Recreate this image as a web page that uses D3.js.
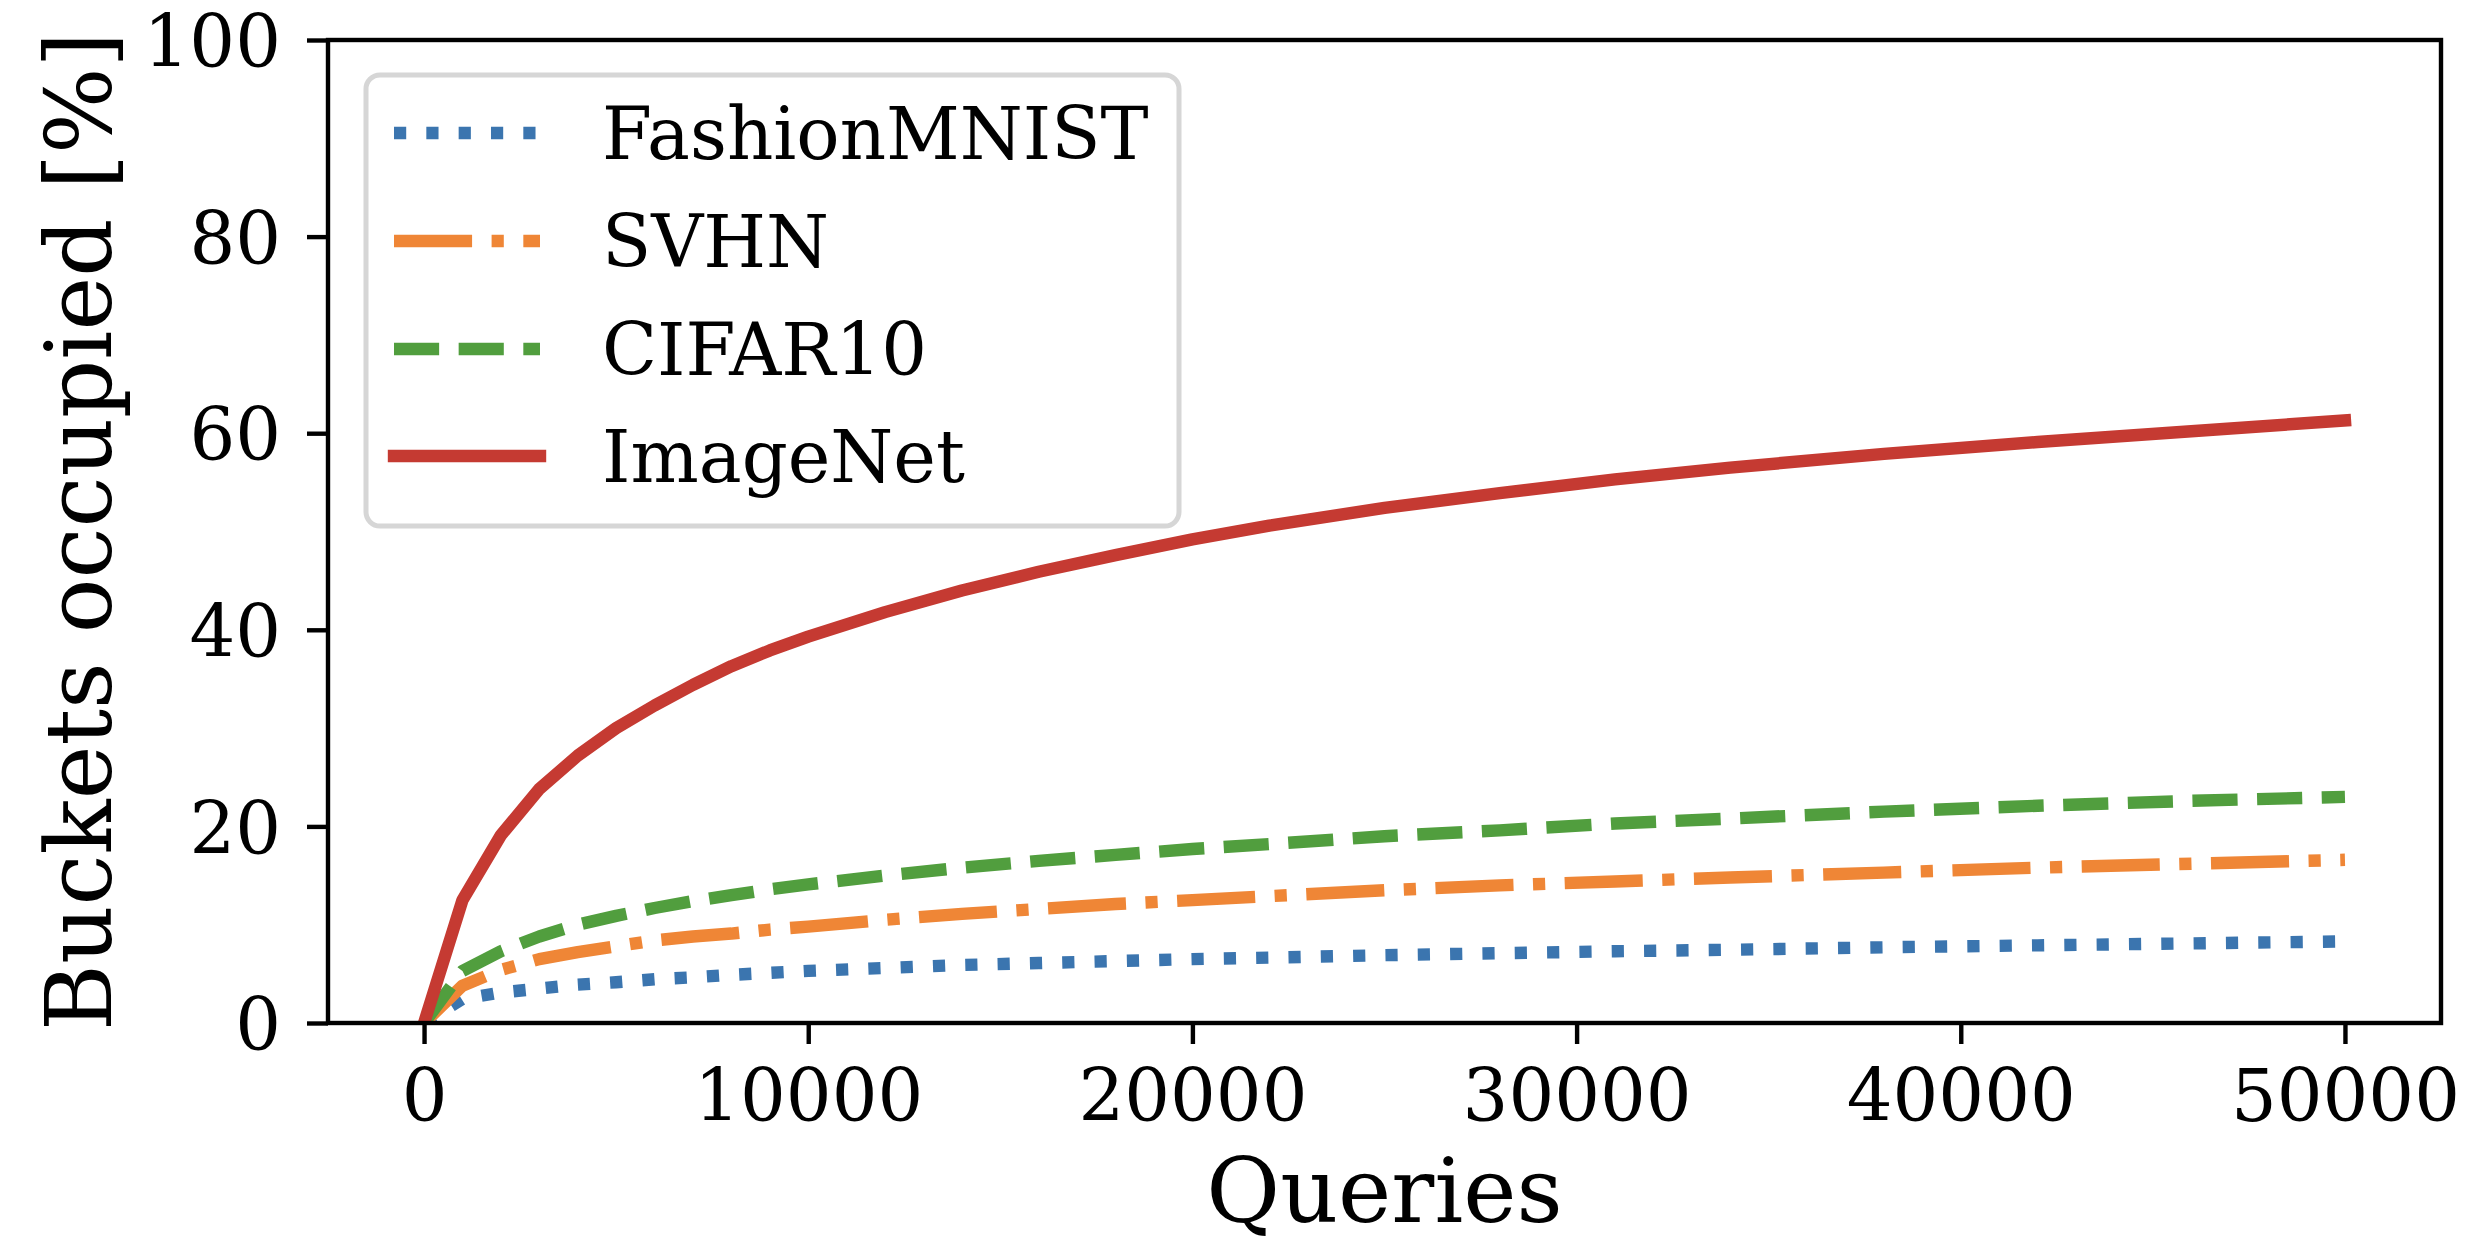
<!DOCTYPE html>
<html>
<head>
<meta charset="utf-8">
<script src="https://cdn.jsdelivr.net/npm/d3@7"></script>
<style>
  html, body { margin: 0; padding: 0; background: #ffffff; }
  svg { display: block; }
  text { font-family: "DejaVu Serif", serif; fill: #000; }
</style>
</head>
<body>
<svg id="chart" width="2488" height="1245"></svg>
<script>
// ---- data ----
const queries = [0, 1000, 2000, 3000, 4000, 5000, 6000, 7000, 8000, 9000, 10000, 12000, 14000, 16000, 18000, 20000, 22000, 25000, 28000, 31000, 34000, 38000, 42000, 46000, 50000];
const fashionMNIST = [0, 2.45, 3.1, 3.5, 3.9, 4.15, 4.45, 4.65, 4.9, 5.1, 5.3, 5.6, 5.9, 6.1, 6.3, 6.5, 6.65, 6.9, 7.1, 7.3, 7.45, 7.7, 7.9, 8.1, 8.3];
const svhn = [0, 3.8, 5.4, 6.5, 7.2, 7.8, 8.4, 8.8, 9.1, 9.5, 9.8, 10.5, 11.1, 11.6, 12.1, 12.5, 12.9, 13.5, 14.0, 14.4, 14.8, 15.3, 15.8, 16.2, 16.6];
const cifar10 = [0, 5.3, 7.3, 8.8, 10.0, 10.9, 11.7, 12.4, 13.0, 13.6, 14.1, 15.0, 15.8, 16.5, 17.1, 17.7, 18.2, 19.0, 19.6, 20.3, 20.8, 21.5, 22.1, 22.6, 23.0];
const imageNet = [0, 12.5, 19.1, 23.8, 27.2, 30.0, 32.3, 34.4, 36.3, 37.9, 39.3, 41.8, 44.0, 45.9, 47.6, 49.2, 50.6, 52.4, 53.9, 55.3, 56.5, 57.9, 59.1, 60.2, 61.3];

const seriesNames = ["FashionMNIST", "SVHN", "CIFAR10", "ImageNet"];
const seriesValues = [fashionMNIST, svhn, cifar10, imageNet];
const xTicks = [0, 10000, 20000, 30000, 40000, 50000];
const yTicks = [0, 20, 40, 60, 80, 100];
const xLabel = "Queries";
const yLabel = "Buckets occupied [%]";

// ---- styles ----
const colors = ["#3b75af", "#ef8636", "#519e3e", "#c53a32"];
const lw = 12.4;
const p = 12.2;
const dashes = [
  [1 * p, 1.65 * p].join(","),
  [6.4 * p, 1.6 * p, 1 * p, 1.6 * p].join(","),
  [3.7 * p, 1.6 * p].join(","),
  null
];

const L = 328, R = 2441, T = 40, B = 1023;
const svg = d3.select("#chart");
svg.append("rect").attr("width", 2488).attr("height", 1245).attr("fill", "#fff");

const x = d3.scaleLinear().domain([-2500, 52500]).range([L, R]);
const y = d3.scaleLinear().domain([0, 100]).range([B, T]);

svg.append("clipPath").attr("id", "clip")
  .append("rect").attr("x", L).attr("y", T).attr("width", R - L).attr("height", B - T);

const line = d3.line().x(d => x(d[0])).y(d => y(d[1]));
const g = svg.append("g").attr("clip-path", "url(#clip)");
seriesValues.forEach((vals, i) => {
  const pts = queries.map((q, j) => [q, vals[j]]);
  const path = g.append("path")
    .attr("d", line(pts))
    .attr("fill", "none")
    .attr("stroke", colors[i])
    .attr("stroke-width", lw)
    .attr("stroke-linejoin", "round")
    .attr("stroke-linecap", dashes[i] ? "butt" : "square");
  if (dashes[i]) path.attr("stroke-dasharray", dashes[i]);
});

// ---- axes ----
const fs = 72;
const xAxis = svg.append("g").attr("transform", `translate(0,${B})`)
  .call(d3.axisBottom(x).tickValues(xTicks).tickFormat(d3.format("d")).tickSize(21).tickPadding(26));
const yAxis = svg.append("g").attr("transform", `translate(${L},0)`)
  .call(d3.axisLeft(y).tickValues(yTicks).tickFormat(d3.format("d")).tickSize(21).tickPadding(26));
[xAxis, yAxis].forEach(a => {
  a.select(".domain").remove();
  a.selectAll(".tick line").attr("stroke", "#000").attr("stroke-width", 4.4);
  a.selectAll(".tick text").attr("font-size", fs).attr("font-family", "DejaVu Serif").attr("fill", "#000");
});
yAxis.selectAll(".tick text").attr("dy", "0.37em");

// spines
svg.append("rect").attr("x", L).attr("y", T).attr("width", R - L).attr("height", B - T)
  .attr("fill", "none").attr("stroke", "#000").attr("stroke-width", 4.4);

// axis labels
svg.append("text").attr("x", (L + R) / 2).attr("y", 1222)
  .attr("text-anchor", "middle").attr("font-size", 90).text(xLabel);
svg.append("text").attr("transform", `translate(111,${(T + B) / 2}) rotate(-90)`)
  .attr("text-anchor", "middle").attr("font-size", 91).text(yLabel);

// ---- legend ----
const lg = svg.append("g");
lg.append("rect").attr("x", 366).attr("y", 75).attr("width", 813).attr("height", 451)
  .attr("rx", 14).attr("ry", 14)
  .attr("fill", "#fff").attr("fill-opacity", 0.8)
  .attr("stroke", "#d6d6d6").attr("stroke-width", 5);
const rowY = [133, 241, 349, 456];
seriesNames.forEach((name, i) => {
  const ln = lg.append("line")
    .attr("x1", 394).attr("x2", 540).attr("y1", rowY[i]).attr("y2", rowY[i])
    .attr("stroke", colors[i]).attr("stroke-width", lw)
    .attr("stroke-linecap", dashes[i] ? "butt" : "square");
  if (dashes[i]) ln.attr("stroke-dasharray", dashes[i]);
  lg.append("text").attr("x", 602).attr("y", rowY[i] + 26)
    .attr("font-size", fs).text(name);
});
</script>
</body>
</html>
